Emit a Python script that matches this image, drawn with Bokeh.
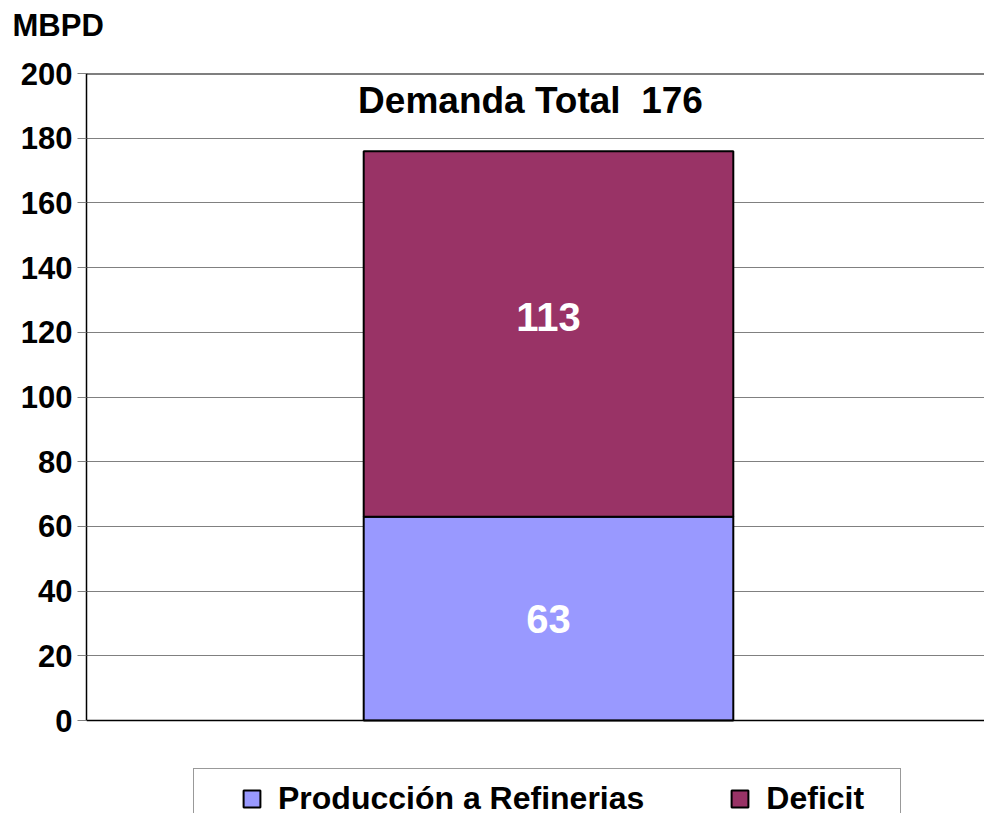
from bokeh.plotting import figure
from bokeh.models import (Range1d, Legend, LegendItem, Span, ColumnDataSource, FixedTicker, Title)
from bokeh.core.properties import value
from bokeh.embed import file_html
from bokeh.resources import INLINE

# ---- data ----
categories = ["Total"]
series_names = ["Producción a Refinerias", "Deficit"]
produccion = [63]
deficit = [113]
y_ticks = [0, 20, 40, 60, 80, 100, 120, 140, 160, 180, 200]
unit_label = "MBPD"

# ---- style ----
colors = ["#9999FF", "#993366"]
FONT = "Liberation Sans"
bar_width = 0.4
label_dy = [0, -17]          # pixel offsets for the segment labels
title_y = 191.5
px_per_unit = 647 / 200
y_low = -(813 - 720) / px_per_unit   # room below zero for the legend

total = produccion[0] + deficit[0]
xs = list(range(len(categories)))

p = figure(width=984, height=813, output_backend="svg", toolbar_location=None,
           x_range=Range1d(-0.5, -0.5 + 898 / 924), y_range=Range1d(y_low, y_ticks[-1]),
           min_border_left=86, min_border_top=73, min_border_bottom=0,
           min_border_right=0, tools="")
p.outline_line_color = None
p.background_fill_color = "white"
p.border_fill_color = "white"

# title MBPD
p.title.text = unit_label
p.title.text_font = FONT
p.title.text_font_size = "31px"
p.title.text_font_style = "bold"
p.title.text_color = "black"
p.title.align = "left"
p.title.offset = -74

# spacer between the unit title and the plot area
spacer = Title(text=" ", text_font_size="14px", standoff=8)
p.add_layout(spacer, "above")

# stacked bars
src = ColumnDataSource(dict(x=xs, produccion=produccion, deficit=deficit))
rs = p.vbar_stack(["produccion", "deficit"], x="x", width=bar_width, source=src,
                  fill_color=colors, line_color="black", line_width=2)

# segment labels
bottoms = [0, produccion[0]]
vals = [produccion[0], deficit[0]]
lab_src = ColumnDataSource(dict(
    x=[xs[0], xs[0]],
    y=[b + v / 2 for b, v in zip(bottoms, vals)],
    t=[str(v) for v in vals],
    dy=label_dy))
p.text(x="x", y="y", text="t", source=lab_src, text_font=value(FONT),
       text_font_size="40px", text_font_style="bold", text_color="white",
       text_align="center", text_baseline="middle", x_offset=0, y_offset="dy")

# Demanda total
p.text(x=[xs[0]], y=[title_y], text=[f"Demanda Total\u00a0 {total}"], text_font=value(FONT),
       text_font_size="37px", text_font_style="bold", text_color="black",
       text_align="center", text_baseline="middle", x_offset=-18)

# axes
p.yaxis.ticker = FixedTicker(ticks=y_ticks)
p.yaxis.bounds = (y_ticks[0], y_ticks[-1])
p.yaxis.major_label_text_font = FONT
p.yaxis.major_label_text_font_size = "31px"
p.yaxis.major_label_text_font_style = "bold"
p.yaxis.major_label_text_color = "black"
p.yaxis.major_tick_out = 9
p.yaxis.major_tick_in = 0
p.yaxis.major_tick_line_color = "#808080"
p.yaxis.minor_tick_line_color = None
p.yaxis.major_label_standoff = 5
p.yaxis.axis_line_color = "black"
p.yaxis.axis_line_width = 1.5

p.xaxis.visible = False

p.xgrid.grid_line_color = None
p.ygrid.ticker = FixedTicker(ticks=y_ticks)
p.ygrid.grid_line_color = "#808080"
p.ygrid.grid_line_width = 1

p.add_layout(Span(location=y_ticks[-1], dimension="width", line_color="black", line_width=2))
p.add_layout(Span(location=y_ticks[0], dimension="width", line_color="black", line_width=1.5))

# legend frame (box only)
dummy = p.scatter(x=[], y=[], fill_alpha=0, line_alpha=0)
box = Legend(items=[LegendItem(label=" ", renderers=[dummy])],
             location=(107, -7), padding=0, margin=0, glyph_width=1, glyph_height=50,
             label_standoff=0, label_width=705, border_line_color="#333333",
             border_line_width=1, background_fill_color="white", background_fill_alpha=1)
p.add_layout(box, "center")

legend = Legend(items=[LegendItem(label=series_names[0], renderers=[rs[0]]),
                       LegendItem(label=series_names[1], renderers=[rs[1]])],
                location=(155, -4), orientation="horizontal", padding=0, margin=0,
                glyph_width=21, glyph_height=21, label_standoff=16, spacing=85,
                border_line_color=None, background_fill_alpha=0,
                label_text_font=FONT, label_text_font_size="32px",
                label_text_font_style="bold", label_text_color="black")
p.add_layout(legend, "center")

open("out.html", "w").write(file_html(p, INLINE))
